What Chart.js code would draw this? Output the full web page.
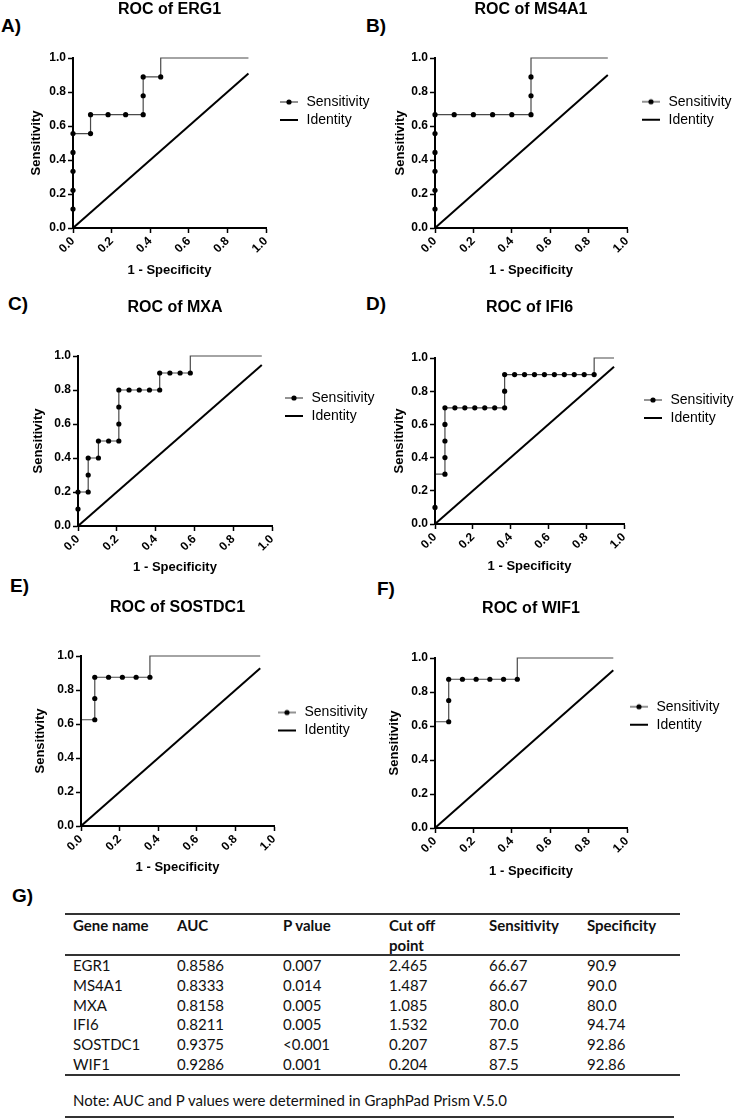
<!DOCTYPE html>
<html>
<head>
<meta charset="utf-8">
<title>ROC curves</title>
<script src="https://cdn.jsdelivr.net/npm/chart.js@4.4.1/dist/chart.umd.min.js"></script>
<style>
  body { margin: 0; width: 734px; height: 1119px; background: #fff; position: relative; overflow: hidden; font-family: "Liberation Sans", Arial, sans-serif; }
  canvas { position: absolute; }
  .tag { position: absolute; font-size: 19px; font-weight: bold; line-height: 19px; color: #000; }
  .cell { position: absolute; font-family: Lato, sans-serif; font-size: 15px; line-height: 20px; color: #111; white-space: pre; }
  .cell.head { font-weight: bold; }
  .rule { position: absolute; height: 1.5px; background: #333; }
</style>
</head>
<body>
<div class="tag" style="left:1px;top:16px">A)</div>
<div class="tag" style="left:366px;top:16px">B)</div>
<div class="tag" style="left:8px;top:294px">C)</div>
<div class="tag" style="left:366px;top:294px">D)</div>
<div class="tag" style="left:10px;top:576px">E)</div>
<div class="tag" style="left:377px;top:579px">F)</div>
<div class="tag" style="left:12px;top:886px">G)</div>

<canvas id="cA" width="378" height="285" style="left:0;top:0"></canvas>
<canvas id="cB" width="354" height="285" style="left:380px;top:0"></canvas>
<canvas id="cC" width="378" height="287" style="left:0;top:295px"></canvas>
<canvas id="cD" width="354" height="286" style="left:380px;top:295px"></canvas>
<canvas id="cE" width="378" height="287" style="left:0;top:595px"></canvas>
<canvas id="cF" width="354" height="291" style="left:380px;top:595px"></canvas>

<div id="table"></div>

<script>
// ROC points (1 - specificity, sensitivity)
const erg1Fpr  = [0, 0, 0, 0, 0, 0, 0.0909, 0.0909, 0.1818, 0.2727, 0.3636, 0.3636, 0.3636, 0.4545, 0.9091];
const erg1Sens = [0, 0.1111, 0.2222, 0.3333, 0.4444, 0.5556, 0.5556, 0.6667, 0.6667, 0.6667, 0.6667, 0.7778, 0.8889, 0.8889, 1.0];

const ms4a1Fpr  = [0, 0, 0, 0, 0, 0, 0, 0.1, 0.2, 0.3, 0.4, 0.5, 0.5, 0.5, 0.9];
const ms4a1Sens = [0, 0.1111, 0.2222, 0.3333, 0.4444, 0.5556, 0.6667, 0.6667, 0.6667, 0.6667, 0.6667, 0.6667, 0.7778, 0.8889, 1.0];

const mxaFpr  = [0, 0, 0, 0.0526, 0.0526, 0.0526, 0.1053, 0.1053, 0.1579, 0.2105, 0.2105, 0.2105, 0.2105,
                 0.2632, 0.3158, 0.3684, 0.4211, 0.4211, 0.4737, 0.5263, 0.5789, 0.9474];
const mxaSens = [0, 0.1, 0.2, 0.2, 0.3, 0.4, 0.4, 0.5, 0.5, 0.5, 0.6, 0.7, 0.8,
                 0.8, 0.8, 0.8, 0.8, 0.9, 0.9, 0.9, 0.9, 1.0];

const ifi6Fpr  = [0, 0, 0.0526, 0.0526, 0.0526, 0.0526, 0.0526, 0.1053, 0.1579, 0.2105, 0.2632, 0.3158, 0.3684,
                  0.3684, 0.3684, 0.4211, 0.4737, 0.5263, 0.5789, 0.6316, 0.6842, 0.7368, 0.7895, 0.8421, 0.9474];
const ifi6Sens = [0, 0.1, 0.3, 0.4, 0.5, 0.6, 0.7, 0.7, 0.7, 0.7, 0.7, 0.7, 0.7,
                  0.8, 0.9, 0.9, 0.9, 0.9, 0.9, 0.9, 0.9, 0.9, 0.9, 0.9, 1.0];

const sostdc1Fpr  = [0, 0.0714, 0.0714, 0.0714, 0.1429, 0.2143, 0.2857, 0.3571, 0.9286];
const sostdc1Sens = [0, 0.625, 0.75, 0.875, 0.875, 0.875, 0.875, 0.875, 1.0];

const wif1Fpr  = [0, 0.0714, 0.0714, 0.0714, 0.1429, 0.2143, 0.2857, 0.3571, 0.4286, 0.9286];
const wif1Sens = [0, 0.625, 0.75, 0.875, 0.875, 0.875, 0.875, 0.875, 0.875, 1.0];

const rocTitles = ['ROC of ERG1', 'ROC of MS4A1', 'ROC of MXA', 'ROC of IFI6', 'ROC of SOSTDC1', 'ROC of WIF1'];
const axisTicks = [0, 0.2, 0.4, 0.6, 0.8, 1.0];

// table G
const tableHead = ['Gene name', 'AUC', 'P value', 'Cut off\npoint', 'Sensitivity', 'Specificity'];
const geneNames = ['EGR1', 'MS4A1', 'MXA', 'IFI6', 'SOSTDC1', 'WIF1'];
const aucValues = ['0.8586', '0.8333', '0.8158', '0.8211', '0.9375', '0.9286'];
const pValues   = ['0.007', '0.014', '0.005', '0.005', '<0.001', '0.001'];
const cutOffs   = ['2.465', '1.487', '1.085', '1.532', '0.207', '0.204'];
const sensPct   = ['66.67', '66.67', '80.0', '70.0', '87.5', '87.5'];
const specPct   = ['90.9', '90.0', '80.0', '94.74', '92.86', '92.86'];
const tableNote = 'Note: AUC and P values were determined in GraphPad Prism V.5.0';

// panel placement
const panels = [
  { id: 'cA', yw: 73, xh: 57, tTop: 0.4, tBot: 38.4, yPad: 29,   xPad: 7.2, padR: 52, dx: 8.5,  dy: 33 },
  { id: 'cB', yw: 55, xh: 57, tTop: 0.4, tBot: 38.4, yPad: 12.2, xPad: 7.2, padR: 47, dx: 9.5,  dy: 32.7 },
  { id: 'cC', yw: 78, xh: 56, tTop: 2.9, tBot: 38.9, yPad: 30.2, xPad: 7.2, padR: 46, dx: 7.5,  dy: 31 },
  { id: 'cD', yw: 55, xh: 57, tTop: 2.9, tBot: 40.9, yPad: 11.2, xPad: 7.2, padR: 50, dx: 14.5, dy: 31 },
  { id: 'cE', yw: 81, xh: 56, tTop: 3.4, tBot: 38.4, yPad: 32.2, xPad: 6.7, padR: 44, dx: -1.5, dy: 45.5 },
  { id: 'cF', yw: 55, xh: 58, tTop: 4.4, tBot: 39.4, yPad: 6.2,  xPad: 7.2, padR: 47, dx: -2.5, dy: 37.7 }
];

Chart.defaults.font.family = '"Liberation Sans", Arial, sans-serif';
Chart.defaults.color = '#000';

function legendIcon(withDot, color, lw) {
  const c = document.createElement('canvas');
  c.width = 18; c.height = 8;
  const g = c.getContext('2d');
  g.strokeStyle = color; g.lineWidth = lw;
  g.beginPath(); g.moveTo(0, 4); g.lineTo(18, 4); g.stroke();
  if (withDot) {
    g.fillStyle = '#000';
    g.beginPath(); g.arc(9, 4, 2.6, 0, Math.PI * 2); g.fill();
  }
  return c;
}
const icons = [legendIcon(true, '#4a4a4a', 1.2), legendIcon(false, '#000', 2)];

// nudge legend next to the plot like the Prism export, widen its clip box
const legendShift = {
  id: 'legendShift',
  afterLayout(chart, args, opts) {
    const lg = chart.legend;
    lg.left += opts.dx; lg.right += opts.dx + 80;
    lg.top += opts.dy; lg.bottom += opts.dy;
  }
};

function axis(titleText, isX, p) {
  return {
    type: 'linear', min: 0, max: 1,
    border: { color: '#000', width: 2, z: 1 },
    grid: { drawOnChartArea: false, drawTicks: true, tickLength: 5, tickWidth: 1.5, tickColor: '#000' },
    afterBuildTicks: s => { s.ticks = axisTicks.map(v => ({ value: v })); },
    ticks: {
      autoSkip: false,
      padding: isX ? 1 : 2,
      minRotation: isX ? 45 : 0, maxRotation: isX ? 45 : 0,
      color: '#000',
      font: { size: 12, weight: 'bold' },
      callback: v => Number(v).toFixed(1)
    },
    title: {
      display: true, text: titleText, color: '#000',
      font: { size: 13, weight: 'bold' },
      padding: isX ? { top: 0, bottom: p.xPad } : { top: p.yPad, bottom: 0 }
    },
    afterFit: s => { if (isX) s.height = p.xh; else s.width = p.yw; }
  };
}

function rocChart(p, title, fpr, sens) {
  const pts = fpr.map((x, i) => ({ x: x, y: sens[i] }));
  const end = fpr[fpr.length - 1];
  return new Chart(document.getElementById(p.id), {
    type: 'line',
    data: {
      datasets: [
        {
          label: 'Sensitivity',
          data: pts,
          stepped: 'after',
          borderColor: '#4a4a4a',
          borderWidth: 1.2,
          pointRadius: ctx => (ctx.raw && ctx.raw.y > 0 && ctx.raw.y < 1) ? 2.6 : 0,
          pointBackgroundColor: '#000',
          pointBorderWidth: 0,
          clip: false
        },
        {
          label: 'Identity',
          data: [{ x: 0, y: 0 }, { x: end, y: end }],
          borderColor: '#000',
          borderWidth: 2,
          pointRadius: 0,
          clip: false
        }
      ]
    },
    options: {
      responsive: false,
      animation: false,
      events: [],
      layout: { padding: { left: 0, top: 0, bottom: 0, right: p.padR } },
      scales: {
        x: axis('1 - Specificity', true, p),
        y: axis('Sensitivity', false, p)
      },
      plugins: {
        title: {
          display: true, text: title, color: '#000', fullSize: false,
          font: { size: 16, weight: 'bold' },
          padding: { top: p.tTop, bottom: p.tBot }
        },
        legend: {
          position: 'right', align: 'start', fullSize: false, maxWidth: 60,
          labels: {
            usePointStyle: true, pointStyleWidth: 21, padding: 4,
            color: '#000', font: { size: 14 },
            generateLabels: chart => chart.data.datasets.map((ds, i) => ({
              text: ds.label, datasetIndex: i, pointStyle: icons[i],
              fillStyle: '#000', strokeStyle: '#000', lineWidth: 1, hidden: false
            }))
          }
        },
        tooltip: { enabled: false },
        legendShift: { dx: p.dx, dy: p.dy }
      }
    },
    plugins: [legendShift]
  });
}

rocChart(panels[0], rocTitles[0], erg1Fpr, erg1Sens);
rocChart(panels[1], rocTitles[1], ms4a1Fpr, ms4a1Sens);
rocChart(panels[2], rocTitles[2], mxaFpr, mxaSens);
rocChart(panels[3], rocTitles[3], ifi6Fpr, ifi6Sens);
rocChart(panels[4], rocTitles[4], sostdc1Fpr, sostdc1Sens);
rocChart(panels[5], rocTitles[5], wif1Fpr, wif1Sens);

// table
const tbl = document.getElementById('table');
const colX = [73, 177, 283, 389, 489, 587];
function addCell(text, x, y, head) {
  const d = document.createElement('div');
  d.className = head ? 'cell head' : 'cell';
  d.style.left = x + 'px'; d.style.top = y + 'px';
  d.textContent = text;
  tbl.appendChild(d);
}
function addRule(x0, x1, y) {
  const d = document.createElement('div');
  d.className = 'rule';
  d.style.left = x0 + 'px'; d.style.width = (x1 - x0) + 'px'; d.style.top = y + 'px';
  tbl.appendChild(d);
}
addRule(65, 680, 913.3);
tableHead.forEach((h, j) => addCell(h, colX[j], 915, true));
addRule(65, 680, 954.3);
const columns = [geneNames, aucValues, pValues, cutOffs, sensPct, specPct];
geneNames.forEach((g, i) => {
  columns.forEach((col, j) => addCell(col[i], colX[j], 955 + i * 19.8, false));
});
addRule(65, 680, 1074.3);
addCell(tableNote, 73, 1090, false);
addRule(65, 674, 1116.3);
</script>
</body>
</html>
